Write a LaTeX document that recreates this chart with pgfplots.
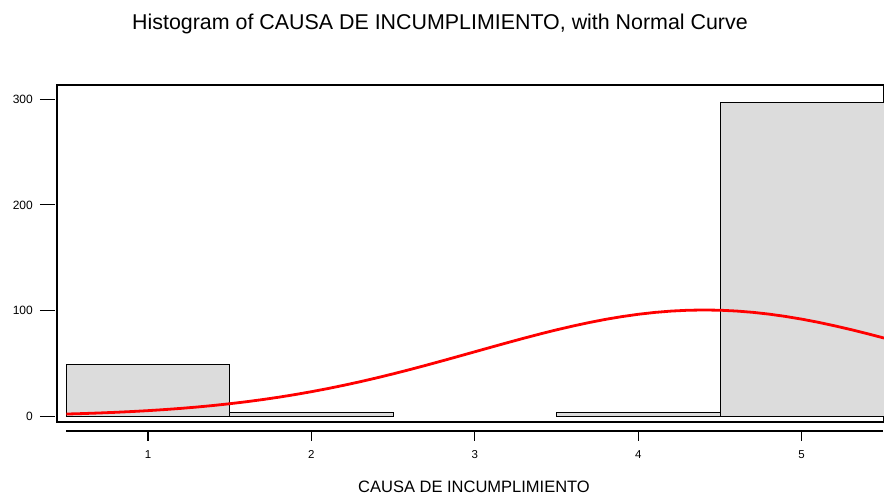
\documentclass[border=0pt]{standalone}
\usepackage{pgfplots}
\pgfplotsset{compat=1.18}
\usepackage{fontspec}
\setmainfont{Liberation Sans}
\definecolor{barfill}{HTML}{DCDCDC}
\begin{document}
\begin{tikzpicture}
\path[use as bounding box] (-57pt,-75pt) rectangle (827pt,422pt);
\begin{axis}[
  name=main,
  at={(0pt,0pt)}, anchor=south west,
  scale only axis, width=827pt, height=337pt,
  xmin=0.443, xmax=5.5, ymin=-5.4, ymax=313.5,
  xtick=\empty,
  ytick={0,100,200,300},
  tick align=outside,
  major tick length=15pt,
  ytick style={line width=1.1pt, black, xshift=-2pt},
  yticklabel style={anchor=east, inner sep=0pt, xshift=-9pt, font=\fontsize{12}{14}\selectfont},
  /pgf/number format/assume math mode=true,
  axis line style={line width=1.3pt},
  tick pos=left,
]
\addplot[ybar interval, draw=black, line width=0.9pt, fill=barfill] coordinates {(0.5,49) (1.5,4) (2.5,0)};
\addplot[ybar interval, draw=black, line width=0.9pt, fill=barfill] coordinates {(3.5,4) (4.5,297) (5.5,297)};
\addplot[red, line width=2.8pt, no markers] coordinates {
(0.5,2.12) (0.6,2.57) (0.7,3.12) (0.8,3.75) (0.9,4.49) (1.0,5.35) (1.1,6.34) (1.2,7.48) (1.3,8.77) (1.4,10.24)
(1.5,11.90) (1.6,13.75) (1.7,15.81) (1.8,18.08) (1.9,20.58) (2.0,23.31) (2.1,26.26) (2.2,29.44) (2.3,32.83) (2.4,36.43)
(2.5,40.22) (2.6,44.18) (2.7,48.29) (2.8,52.51) (2.9,56.81) (3.0,61.14) (3.1,65.48) (3.2,69.77) (3.3,73.97) (3.4,78.02)
(3.5,81.88) (3.6,85.49) (3.7,88.81) (3.8,91.79) (3.9,94.39) (4.0,96.58) (4.1,98.31) (4.2,99.57) (4.3,100.34) (4.4,100.6)
(4.5,100.35) (4.6,99.59) (4.7,98.34) (4.8,96.62) (4.9,94.44) (5.0,91.85) (5.1,88.88) (5.2,85.55) (5.3,81.95) (5.4,78.10) (5.5,74.05)};
\end{axis}
\begin{axis}[
  at={(9.3pt,-9pt)}, anchor=south west,
  scale only axis, width=817.1pt, height=1pt,
  xmin=0.5, xmax=5.5, ymin=0, ymax=1,
  axis x line*=bottom, hide y axis,
  xtick={1,2,3,4,5},
  tick align=outside,
  major tick length=10pt,
  xtick style={line width=1.1pt, black},
  xticklabel style={anchor=north, inner sep=0pt, yshift=-9.7pt, font=\fontsize{11.5}{14}\selectfont},
  /pgf/number format/assume math mode=true,
  axis line style={line width=1.3pt},
]
\addplot[draw=none] coordinates {(1,0) (5,0)};
\end{axis}
\node[anchor=base, font=\fontsize{21.4}{25}\selectfont] at (383pt,392pt) {Histogram of CAUSA DE INCUMPLIMIENTO, with Normal Curve};
\node[anchor=base, font=\fontsize{16.5}{20}\selectfont] at (417pt,-70.5pt) {CAUSA DE INCUMPLIMIENTO};
\end{tikzpicture}
\end{document}
